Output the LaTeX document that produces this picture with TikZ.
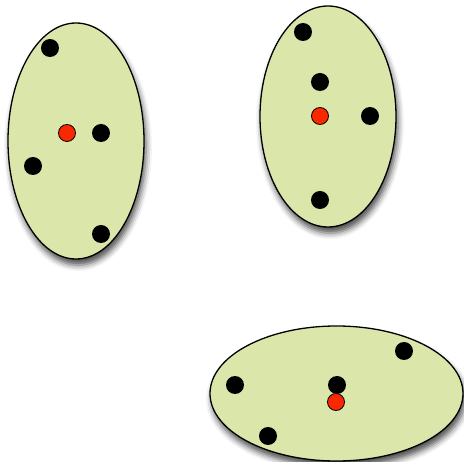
\documentclass[tikz,border=0pt]{standalone}
\usetikzlibrary{shapes.geometric,shadows.blur}
\definecolor{clusterfill}{RGB}{218,230,170}
\definecolor{centrered}{RGB}{250,40,0}
\begin{document}
\begin{tikzpicture}[
    x=1pt, y=-1pt,
    cluster/.style={ellipse, draw=black, line width=1.3pt, fill=clusterfill,
                    inner sep=0pt,
                    blur shadow={shadow xshift=2pt, shadow yshift=-6pt,
                                 shadow blur radius=6pt, shadow opacity=70}},
    point/.style={circle, fill=black, minimum size=18pt, inner sep=0pt},
    centre/.style={circle, draw=black, line width=0.8pt, fill=centrered,
                   minimum size=17pt, inner sep=0pt}
]
    \useasboundingbox (0,0) rectangle (464,462);

    % clusters
    \node[cluster, minimum width=136pt, minimum height=236pt] (cA) at (76,141) {};
    \node[cluster, minimum width=136pt, minimum height=221pt] (cB) at (328,116.5) {};
    \node[cluster, minimum width=253pt, minimum height=135pt] (cC) at (336.5,393.5) {};

    % first cluster
    \node[point] (a1) at (50,48) {};
    \node[point] (a2) at (101,133) {};
    \node[point] (a3) at (33,166) {};
    \node[point] (a4) at (101,234) {};
    \node[centre] (ma) at (67,133) {};

    % second cluster
    \node[point] (b1) at (303,32) {};
    \node[point] (b2) at (320,82) {};
    \node[point] (b3) at (370,116) {};
    \node[point] (b4) at (320,200) {};
    \node[centre] (mb) at (320,116) {};

    % third cluster
    \node[point] (c1) at (404,351) {};
    \node[point] (c2) at (235,385) {};
    \node[point] (c3) at (337,385) {};
    \node[point] (c4) at (268,436) {};
    \node[centre] (mc) at (336,402) {};

\end{tikzpicture}
\end{document}
